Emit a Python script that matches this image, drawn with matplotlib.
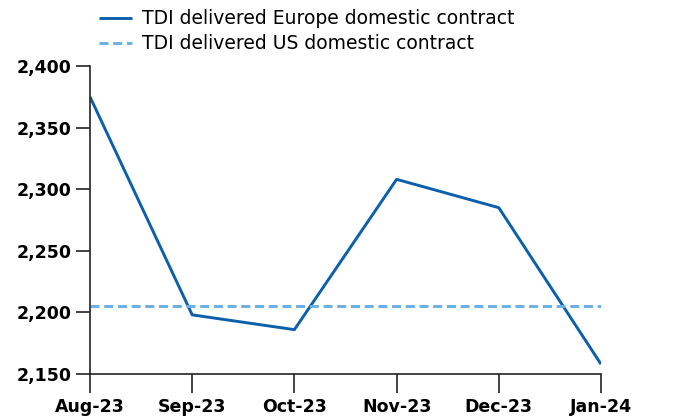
import matplotlib
matplotlib.use("Agg")
import matplotlib.pyplot as plt
import matplotlib.ticker as mticker

months = ["Aug-23", "Sep-23", "Oct-23", "Nov-23", "Dec-23", "Jan-24"]
europe = [2375, 2198, 2186, 2308, 2285, 2158]
us = [2205, 2205, 2205, 2205, 2205, 2205]
yticks = [2150, 2200, 2250, 2300, 2350, 2400]

plt.rcParams['font.family'] = ['DejaVu Sans']

fig = plt.figure(figsize=(6.79, 4.16), dpi=100)
ax = fig.add_axes([90/679, 1-374/416, (601-90)/679, (374-66)/416])

x = list(range(len(months)))
l1, = ax.plot(x, europe, color="#0b5fac", lw=2.1, solid_capstyle="butt")
l2, = ax.plot(x, us, color="#6aaee6", lw=2.1, ls=(0, (3.1, 1.6)))

ax.set_xlim(0, len(months)-1)
ax.set_ylim(2150, 2400)
ax.set_xticks(x)
ax.set_xticklabels(months, fontweight="bold", fontsize=12.5)
ax.set_yticks(yticks)
ax.yaxis.set_major_formatter(mticker.FuncFormatter(lambda v, p: f"{int(v):,}"))
for lab in ax.get_yticklabels():
    lab.set_fontweight("bold")
    lab.set_fontsize(12.5)
ax.tick_params(axis="x", length=14, width=1.2, color="#222222", pad=3)
ax.tick_params(axis="y", length=10, width=1.2, color="#222222", pad=3)
for s in ["top", "right"]:
    ax.spines[s].set_visible(False)
for s in ["left", "bottom"]:
    ax.spines[s].set_linewidth(1.2)
    ax.spines[s].set_color("#222222")

fig.legend([l1, l2], ["TDI delivered Europe domestic contract", "TDI delivered US domestic contract"],
           loc="upper left", bbox_to_anchor=(90/679, 1.0), frameon=False, fontsize=13.5,
           handlelength=1.75, handletextpad=0.55, labelspacing=0.32, borderaxespad=0.1)

fig.savefig("out.png", dpi=100)
